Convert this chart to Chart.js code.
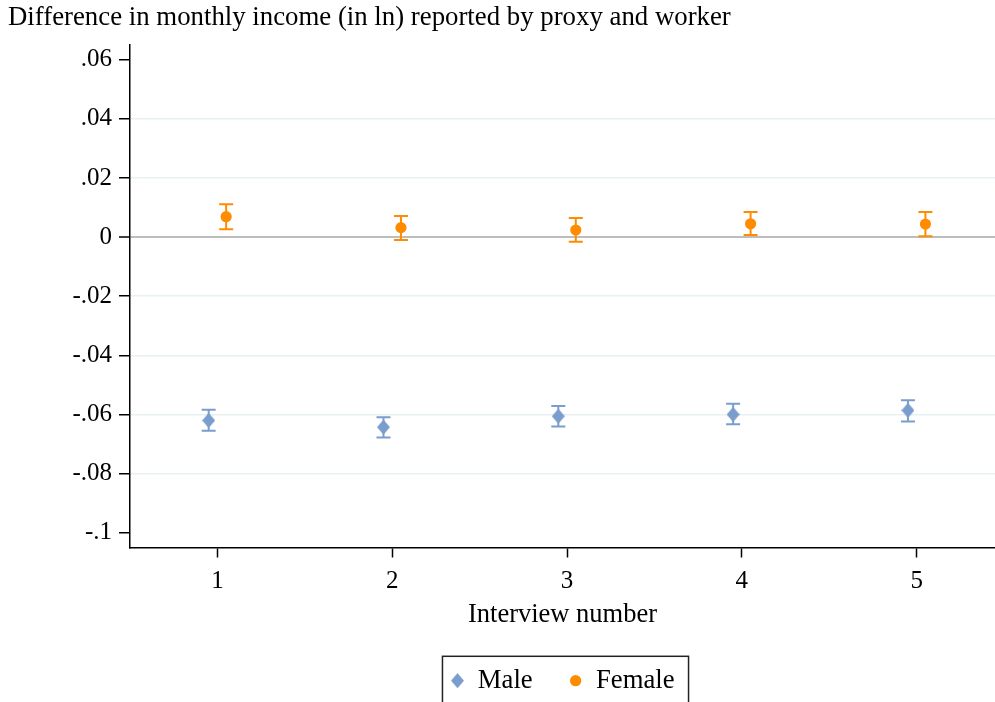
<!DOCTYPE html>
<html>
<head>
<meta charset="utf-8">
<script src="https://cdn.jsdelivr.net/npm/chart.js@4.4.1/dist/chart.umd.min.js"></script>
<style>
  html, body { margin: 0; padding: 0; background: #fff; overflow: hidden; width: 995px; height: 702px; }
  canvas { display: block; }
</style>
</head>
<body>
<!-- canvas runs a few pixels past the window so the plot region reaches the right edge
     and the legend frame continues below the bottom edge -->
<canvas id="chart" width="1002" height="704"></canvas>
<script>
// Interview rounds on the x axis
const interviews = [1, 2, 3, 4, 5];

// Mean difference in ln monthly income (proxy minus worker) with 95% CI
const maleMean  = [-0.0620, -0.0643, -0.0606, -0.0600, -0.0586];
const maleLow   = [-0.0655, -0.0678, -0.0641, -0.0633, -0.0624];
const maleHigh  = [-0.0584, -0.0609, -0.0571, -0.0564, -0.0552];

const femaleMean = [0.0069, 0.0032, 0.0024, 0.0045, 0.0044];
const femaleLow  = [0.0027, -0.0010, -0.0016, 0.0007, 0.0003];
const femaleHigh = [0.0111, 0.0071, 0.0065, 0.0085, 0.0085];

// Y axis tick values and their labels
const yTickValues = [0.06, 0.04, 0.02, 0, -0.02, -0.04, -0.06, -0.08, -0.1];
const yTickLabels = ['.06', '.04', '.02', '0', '-.02', '-.04', '-.06', '-.08', '-.1'];
const xTickLabels = ['1', '2', '3', '4', '5'];

const MALE_COLOR = 'rgb(122,157,205)';
const FEMALE_COLOR = 'rgb(255,140,0)';
const SERIF = '"Liberation Serif", "Times New Roman", serif';
const DODGE = 0.05; // horizontal shift so the two groups do not overlap

const CHART_BOTTOM = 547.5;
const LEGEND_FONT = 26.7;
const LEGEND_PAD = 36;
const LEGEND_HEIGHT = LEGEND_FONT + LEGEND_PAD + 10; // height Chart.js gives a one-row legend

function makePoints(means, lows, highs, shift) {
  return interviews.map((x, i) => ({ x: x + shift, y: means[i], lo: lows[i], hi: highs[i] }));
}

// Slightly tall diamond marker
function diamondMarker(w, h, color) {
  const c = document.createElement('canvas');
  c.width = w; c.height = h;
  const g = c.getContext('2d');
  g.fillStyle = color;
  g.beginPath();
  g.moveTo(w / 2, 0); g.lineTo(w, h / 2); g.lineTo(w / 2, h); g.lineTo(0, h / 2);
  g.closePath();
  g.fill();
  return c;
}
const maleMarker = diamondMarker(13, 15, MALE_COLOR);

// Capped confidence-interval bars, drawn under the markers
const errorBars = {
  id: 'errorBars',
  beforeDatasetsDraw(chart) {
    const { ctx, scales: { x, y } } = chart;
    chart.data.datasets.forEach((ds, di) => {
      if (!chart.isDatasetVisible(di)) return;
      ctx.save();
      ctx.strokeStyle = ds.borderColor;
      ctx.lineWidth = 2;
      ds.data.forEach(p => {
        const px = x.getPixelForValue(p.x);
        const yLo = y.getPixelForValue(p.lo);
        const yHi = y.getPixelForValue(p.hi);
        const cap = 7;
        ctx.beginPath();
        ctx.moveTo(px, yLo); ctx.lineTo(px, yHi);
        ctx.moveTo(px - cap, yLo); ctx.lineTo(px + cap, yLo);
        ctx.moveTo(px - cap, yHi); ctx.lineTo(px + cap, yHi);
        ctx.stroke();
      });
      ctx.restore();
    });
  }
};

// Frame around the legend entries
const legendFrame = {
  id: 'legendFrame',
  afterDraw(chart) {
    const lg = chart.legend;
    if (!lg || !lg.legendHitBoxes || !lg.legendHitBoxes.length) return;
    const boxes = lg.legendHitBoxes;
    const left = Math.min(...boxes.map(b => b.left)) - 8;
    const right = Math.max(...boxes.map(b => b.left + b.width)) + 14;
    const top = Math.min(...boxes.map(b => b.top)) - 11;
    const { ctx } = chart;
    ctx.save();
    ctx.strokeStyle = '#222';
    ctx.lineWidth = 1.5;
    ctx.strokeRect(left, top, right - left, chart.height + 20 - top);
    ctx.restore();
  }
};

new Chart(document.getElementById('chart'), {
  type: 'scatter',
  data: {
    datasets: [
      {
        label: 'Male',
        data: makePoints(maleMean, maleLow, maleHigh, -DODGE),
        pointStyle: maleMarker,
        pointRadius: 7,
        pointHoverRadius: 7,
        backgroundColor: MALE_COLOR,
        borderColor: MALE_COLOR,
        borderWidth: 0
      },
      {
        label: 'Female',
        data: makePoints(femaleMean, femaleLow, femaleHigh, DODGE),
        pointStyle: 'circle',
        pointRadius: 5.6,
        pointHoverRadius: 5.6,
        backgroundColor: FEMALE_COLOR,
        borderColor: FEMALE_COLOR,
        borderWidth: 0
      }
    ]
  },
  options: {
    responsive: false,
    animation: false,
    events: [],
    layout: { padding: { left: 8, right: 0, top: 0, bottom: 0 } },
    plugins: {
      tooltip: { enabled: false },
      title: {
        display: true,
        text: 'Difference in monthly income (in ln) reported by proxy and worker',
        align: 'start',
        color: '#000',
        font: { family: SERIF, size: 26.8, weight: 'normal', lineHeight: 1.2 },
        padding: { top: 2, bottom: 10.8 }
      },
      legend: {
        display: true,
        position: 'bottom',
        fullSize: false,
        labels: {
          usePointStyle: true,
          boxWidth: 14,
          boxHeight: 8,
          padding: LEGEND_PAD,
          color: '#000',
          font: { family: SERIF, size: LEGEND_FONT }
        }
      }
    },
    scales: {
      x: {
        type: 'linear',
        min: 0.5,
        max: 5.448,
        afterBuildTicks(scale) {
          scale.ticks = interviews.map(v => ({ value: v }));
        },
        afterFit(scale) {
          scale.height = scale.chart.height - CHART_BOTTOM - LEGEND_HEIGHT;
          scale.paddingLeft = 0;
          scale.paddingRight = 0;
        },
        ticks: {
          color: '#000',
          padding: 8.5,
          maxRotation: 0,
          autoSkip: false,
          font: { family: SERIF, size: 25 },
          callback: (v) => xTickLabels[interviews.indexOf(v)]
        },
        grid: {
          drawOnChartArea: false,
          drawTicks: true,
          tickLength: 10,
          tickColor: '#000',
          tickWidth: 1.5
        },
        border: { display: true, color: '#000', width: 1.5 },
        title: {
          display: true,
          text: 'Interview number',
          color: '#000',
          font: { family: SERIF, size: 26.5 },
          padding: { top: 0, bottom: 0 }
        }
      },
      y: {
        type: 'linear',
        min: -0.105,
        max: 0.065,
        afterBuildTicks(scale) {
          scale.ticks = yTickValues.map(v => ({ value: v }));
        },
        afterFit(scale) {
          scale.width = 122;
          scale.paddingTop = 0;
          scale.paddingBottom = 0;
        },
        ticks: {
          color: '#000',
          padding: 7,
          autoSkip: false,
          font: { family: SERIF, size: 25 },
          callback: (v) => {
            const i = yTickValues.findIndex(t => Math.abs(t - v) < 1e-9);
            return i >= 0 ? yTickLabels[i] : '';
          }
        },
        grid: {
          drawTicks: true,
          tickLength: 11,
          tickColor: '#000',
          tickWidth: 1.5,
          color: (ctx) => {
            const v = ctx.tick ? ctx.tick.value : null;
            if (v === null) return 'rgba(0,0,0,0)';
            if (Math.abs(v) < 1e-9) return '#bdbdbd';
            if (Math.abs(v - 0.06) < 1e-9 || Math.abs(v + 0.1) < 1e-9) return 'rgba(0,0,0,0)';
            return '#e7f0f2';
          },
          lineWidth: (ctx) => (ctx.tick && Math.abs(ctx.tick.value) < 1e-9 ? 2 : 1.5)
        },
        border: { display: true, color: '#000', width: 1.5 }
      }
    }
  },
  plugins: [errorBars, legendFrame]
});
</script>
</body>
</html>
